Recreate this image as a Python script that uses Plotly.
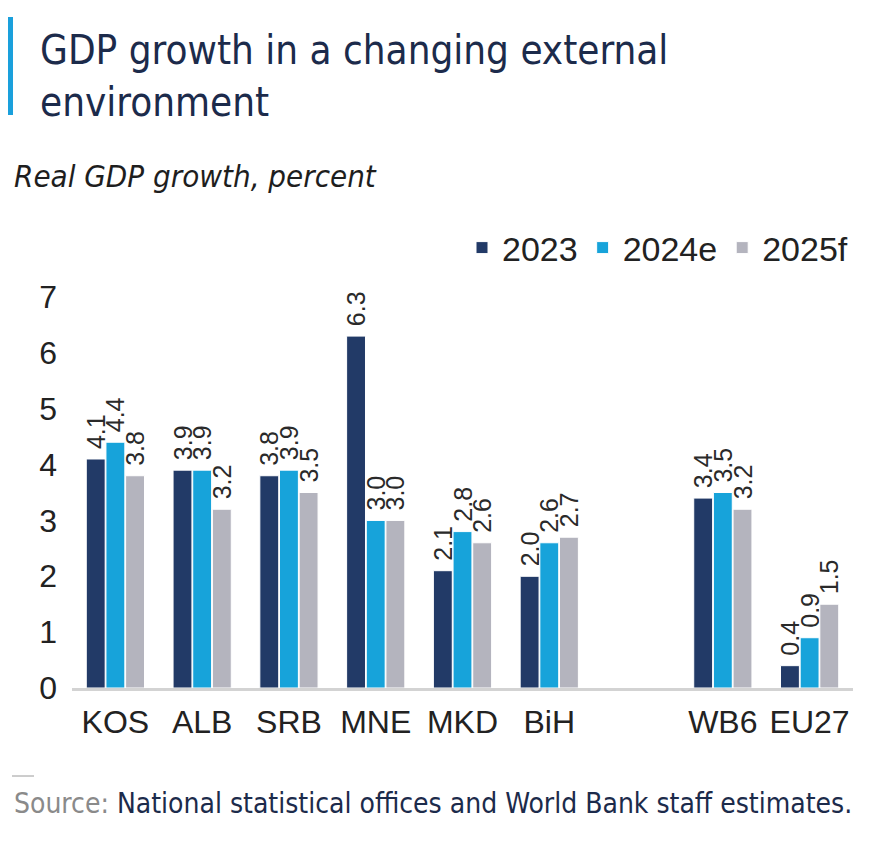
import plotly.graph_objects as go

categories = ["KOS", "ALB", "SRB", "MNE", "MKD", "BiH", " ", "WB6", "EU27"]
v2023 = [4.1, 3.9, 3.8, 6.3, 2.1, 2.0, None, 3.4, 0.4]
v2024 = [4.4, 3.9, 3.9, 3.0, 2.8, 2.6, None, 3.5, 0.9]
v2025 = [3.8, 3.2, 3.5, 3.0, 2.6, 2.7, None, 3.2, 1.5]
series_names = ["2023", "2024e", "2025f"]
colors = ["#223a67", "#17a3da", "#b4b4be"]

W, H = 890, 842
L, R, T, B = 72, 37, 297, 154
pw, ph = W - L - R, H - T - B

def px(x):
    return (x - L) / pw

def py(y):
    return (H - B - y) / ph

num_font = "Liberation Sans, Arial, sans-serif"
cond_font = "Liberation Sans Narrow, DejaVu Sans Condensed, sans-serif"

fig = go.Figure()
for name, vals, col in zip(series_names, [v2023, v2024, v2025], colors):
    fig.add_trace(go.Bar(
        x=categories, y=vals, name=name,
        marker=dict(color=col, line=dict(color="white", width=1)),
        texttemplate="\u00a0%{y:.1f}", textposition="outside", textangle=-90,
        constraintext="none",
        textfont=dict(family=num_font, size=25, color="#2a2a2a"),
        cliponaxis=False,
    ))

fig.update_layout(
    width=W, height=H,
    margin=dict(l=L, r=R, t=T, b=B),
    paper_bgcolor="white", plot_bgcolor="white",
    barmode="group", bargap=0.32, bargroupgap=0.04,
    showlegend=True,
    legend=dict(orientation="h", x=1.0, xanchor="right", y=py(248), yanchor="middle",
                font=dict(family=num_font, size=34, color="#222"),
                itemwidth=30, traceorder="normal", bgcolor="rgba(0,0,0,0)"),
    title=dict(text="GDP growth in a changing external<br>environment",
               x=40 / W, xanchor="left", xref="container",
               y=1 - 64 / H, yanchor="middle", yref="container",
               font=dict(family=cond_font, size=40, color="#1c2b4b")),
    uniformtext=dict(mode=False),
)

fig.update_xaxes(
    type="category", categoryorder="array", categoryarray=categories,
    showline=True, linecolor="#d3d3d3", linewidth=3,
    showgrid=False, ticks="", ticklabelstandoff=4,
    tickfont=dict(family=num_font, size=32, color="#222"),
    fixedrange=True,
)
fig.update_yaxes(
    range=[0, 7], dtick=1, showgrid=False, zeroline=False, showline=False,
    ticks="", ticklabelstandoff=14,
    tickfont=dict(family=num_font, size=32, color="#222"),
    fixedrange=True,
)

fig.add_shape(type="rect", xref="paper", yref="paper",
              x0=px(8), x1=px(13), y0=py(115), y1=py(17),
              fillcolor="#1aa0dc", line=dict(width=0))
fig.add_shape(type="line", xref="paper", yref="paper",
              x0=px(12), x1=px(34), y0=py(776), y1=py(776),
              line=dict(color="#9a9a9a", width=1))

fig.add_annotation(text="<i>Real GDP growth, percent</i>", xref="paper", yref="paper",
                   x=px(12), y=py(176), xanchor="left", yanchor="middle", showarrow=False,
                   font=dict(family=cond_font, size=31, color="#1e1e1e"))
fig.add_annotation(text="<span style='color:#8a8a8a'>Source:</span> National statistical offices and World Bank staff estimates.",
                   xref="paper", yref="paper",
                   x=px(12), y=py(803), xanchor="left", yanchor="middle", showarrow=False,
                   font=dict(family=cond_font, size=28, color="#1c2b4b"))

fig.write_html("out.html")
